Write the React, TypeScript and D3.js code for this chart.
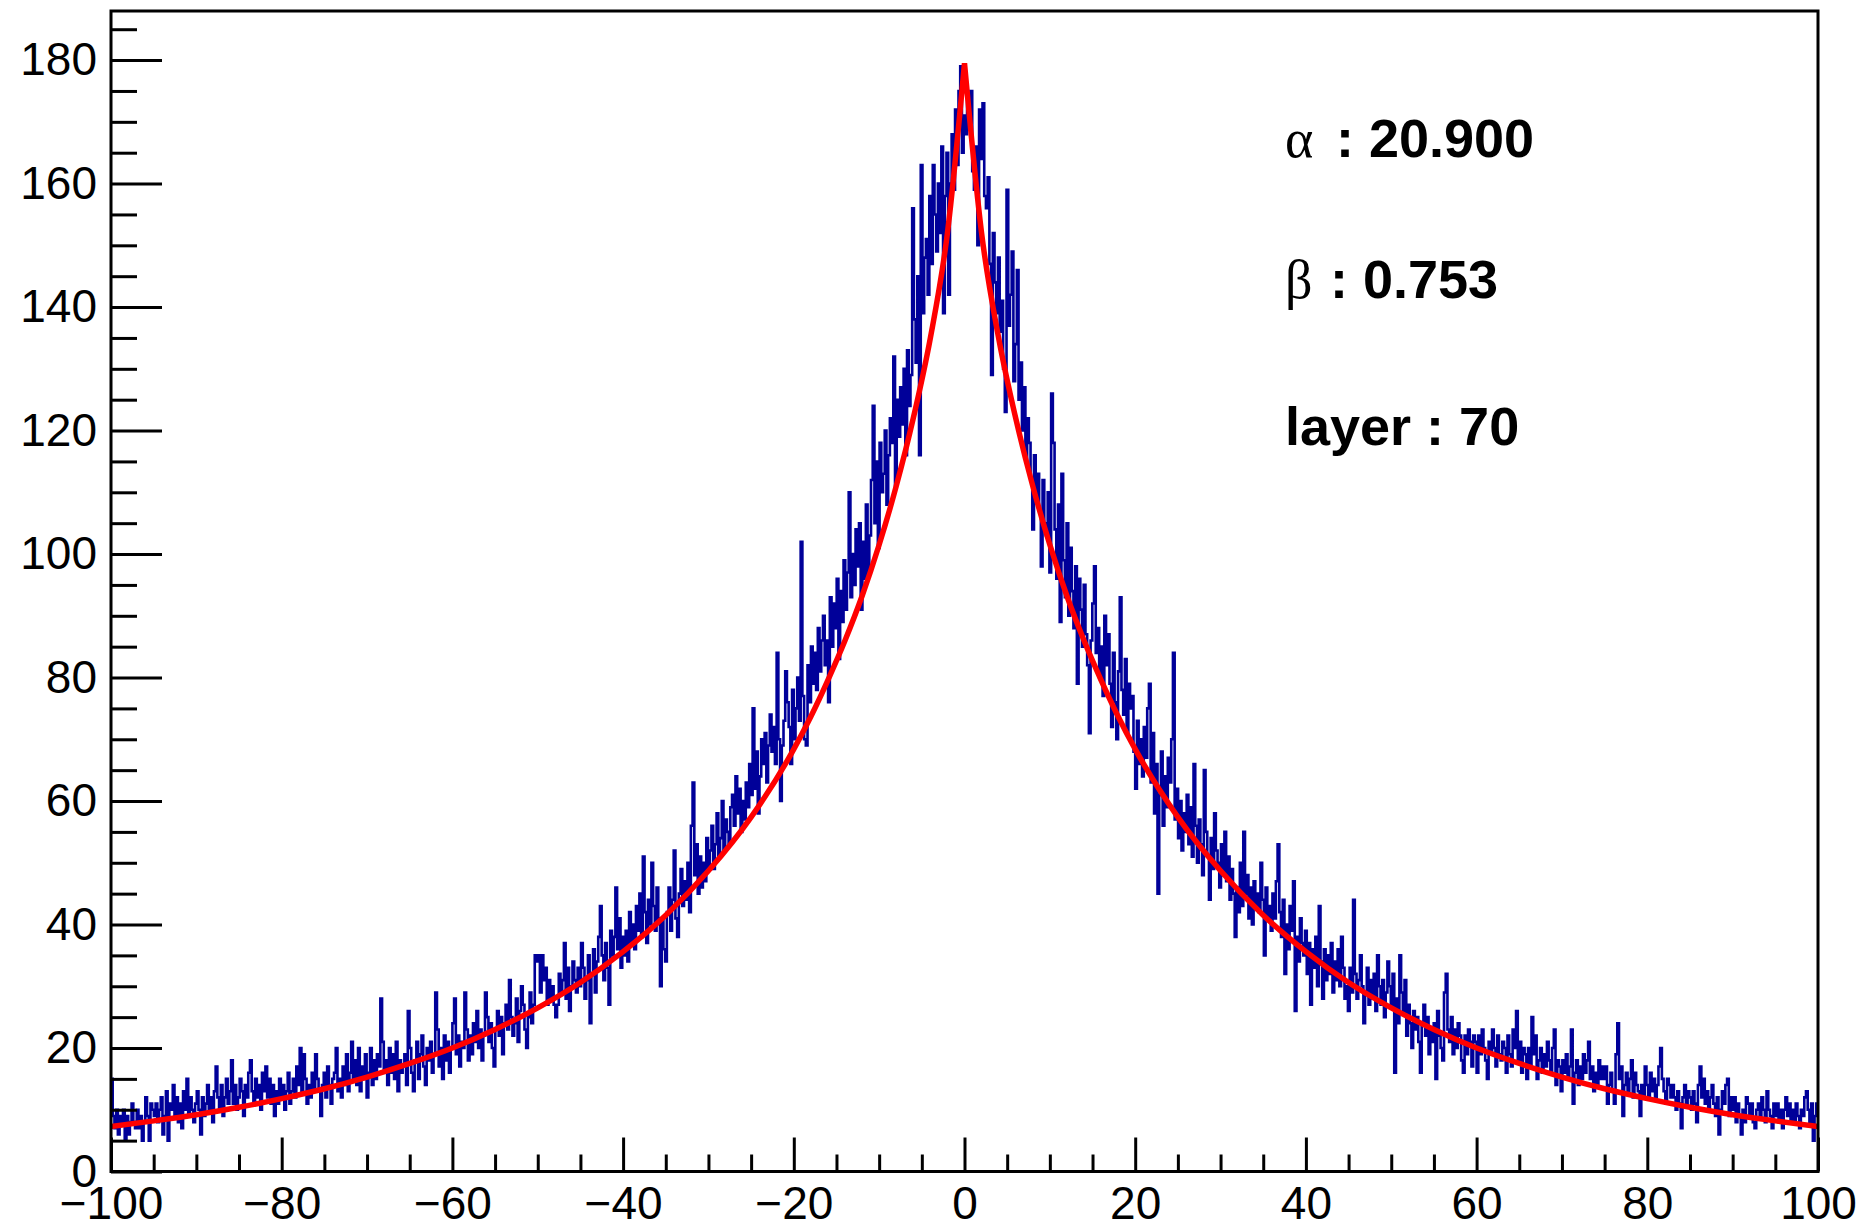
import React, { useEffect, useRef } from 'react';
import * as d3 from 'd3';

// bin contents, 1000 bins of 0.2 from -100 to 100, one array per 20 units of x
const countsNeg100 = [
    15, 9, 7, 10, 6, 9, 8, 10, 5, 9, 6, 8, 11, 8, 7, 10, 7, 9, 5, 8,
    12, 9, 5, 11, 10, 9, 11, 8, 10, 12, 6, 9, 13, 5, 11, 10, 14, 9, 12, 8,
    11, 7, 13, 10, 15, 9, 12, 10, 8, 11, 13, 10, 6, 12, 9, 11, 14, 10, 12, 8,
    13, 17, 12, 10, 14, 9, 12, 15, 11, 13, 18, 11, 14, 10, 12, 15, 13, 9, 14, 12,
    16, 18, 13, 11, 15, 12, 14, 10, 16, 13, 17, 12, 15, 11, 14
];
const countsNeg80 = [
    9, 13, 11, 15, 12, 14, 10, 13, 16, 11, 13, 15, 12, 17, 14, 20, 13, 19, 15, 11,
    14, 12, 16, 13, 19, 15, 13, 9, 14, 16, 12, 17, 14, 11, 15, 16, 20, 13, 15, 12,
    17, 14, 19, 13, 16, 21, 15, 18, 14, 20, 13, 17, 15, 19, 12, 16, 20, 14, 18, 15,
    19, 17, 28, 21, 16, 18, 14, 20, 16, 19, 15, 21, 13, 18, 16, 17, 19, 14, 26, 20,
    16, 13, 18, 21, 15, 19, 22, 17, 14, 20, 18, 21, 16, 19, 29, 23, 17, 20, 15, 22
];
const countsNeg60 = [
    18, 21, 16, 20, 24, 28, 19, 22, 17, 21, 20, 29, 23, 18, 22, 19, 24, 21, 26, 20,
    23, 18, 22, 29, 25, 21, 24, 20, 17, 23, 26, 22, 25, 19, 24, 27, 23, 31, 25, 22,
    24, 28, 21, 26, 30, 27, 23, 20, 25, 29, 24, 27, 35, 34, 35, 29, 35, 31, 33, 27,
    31, 28, 30, 27, 25, 27, 32, 29, 31, 37, 28, 33, 26, 30, 34, 31, 29, 33, 30, 37,
    33, 28, 31, 35, 24, 32, 36, 29, 34, 38, 43, 35, 31, 37, 33, 27, 39, 35, 38, 46
];
const countsNeg40 = [
    36, 41, 33, 38, 35, 39, 34, 42, 37, 40, 36, 43, 39, 45, 38, 51, 42, 37, 44, 40,
    50, 43, 39, 46, 41, 30, 41, 36, 34, 42, 46, 39, 44, 52, 41, 38, 45, 49, 43, 47,
    44, 50, 42, 56, 63, 48, 53, 45, 51, 46, 50, 47, 54, 49, 52, 56, 49, 53, 58, 51,
    54, 60, 52, 57, 55, 53, 59, 61, 56, 64, 58, 62, 55, 60, 57, 63, 59, 66, 61, 75,
    62, 68, 58, 64, 70, 66, 71, 63, 69, 74, 68, 72, 66, 84, 70, 60, 69, 73, 81, 76
];
const countsNeg20 = [
    72, 66, 78, 70, 75, 80, 73, 102, 77, 70, 69, 82, 76, 85, 79, 84, 78, 88, 81, 86,
    90, 82, 86, 76, 93, 85, 92, 88, 96, 83, 94, 89, 99, 91, 97, 110, 93, 100, 95, 104,
    98, 105, 91, 102, 96, 108, 97, 103, 112, 124, 105, 115, 101, 118, 110, 113, 120, 108, 116, 122,
    118, 132, 111, 125, 119, 127, 121, 130, 116, 133, 124, 129, 156, 138, 131, 145, 116, 163, 139, 148,
    151, 142, 158, 147, 163, 155, 149, 160, 152, 166, 139, 158, 165, 142, 160, 168, 159, 172, 163, 175
];
const countsPos0 = [
    179, 165, 171, 168, 174, 170, 175, 162, 159, 166, 150, 172, 164, 173, 158, 156, 161, 147, 129, 152,
    144, 139, 148, 136, 141, 130, 123, 159, 137, 142, 149, 128, 134, 146, 125, 131, 120, 127, 115, 122,
    118, 112, 104, 116, 109, 113, 107, 98, 112, 105, 103, 110, 97, 126, 118, 104, 96, 108, 89, 113,
    99, 93, 105, 90, 101, 94, 88, 98, 79, 96, 91, 85, 95, 87, 82, 71, 86, 92, 98, 84,
    88, 80, 85, 77, 90, 82, 87, 79, 72, 84, 76, 70, 81, 93, 78, 74, 83, 71, 79, 75
];
const countsPos20 = [
    77, 68, 62, 73, 66, 70, 64, 72, 67, 75, 79, 63, 71, 58, 66, 45, 61, 68, 56, 64,
    59, 67, 63, 70, 84, 57, 62, 54, 60, 52, 58, 55, 61, 53, 59, 51, 66, 56, 50, 57,
    53, 48, 65, 55, 51, 44, 54, 49, 58, 52, 50, 46, 53, 48, 55, 47, 51, 44, 49, 45,
    38, 46, 42, 50, 43, 55, 45, 48, 41, 46, 40, 47, 43, 45, 42, 50, 44, 35, 46, 41,
    43, 39, 45, 41, 47, 53, 42, 38, 44, 32, 40, 36, 43, 39, 47, 26, 38, 34, 41, 37
];
const countsPos40 = [
    35, 39, 32, 37, 27, 36, 33, 38, 30, 43, 34, 28, 36, 31, 35, 32, 37, 29, 34, 31,
    36, 30, 38, 33, 28, 30, 26, 33, 29, 44, 32, 28, 31, 35, 30, 24, 29, 33, 27, 31,
    28, 32, 26, 35, 30, 27, 31, 25, 29, 34, 30, 27, 32, 16, 28, 24, 35, 29, 26, 31,
    22, 27, 24, 20, 26, 23, 25, 21, 16, 24, 27, 22, 25, 19, 23, 21, 24, 15, 26, 22,
    20, 18, 29, 32, 23, 21, 25, 19, 23, 20, 24, 22, 18, 16, 22, 19, 23, 21, 17, 22
];
const countsPos60 = [
    21, 16, 22, 19, 23, 20, 18, 15, 21, 19, 23, 20, 17, 22, 19, 18, 21, 20, 16, 22,
    19, 17, 23, 20, 26, 18, 21, 16, 20, 19, 15, 20, 17, 25, 19, 22, 15, 18, 20, 16,
    19, 17, 21, 18, 16, 20, 23, 14, 18, 17, 13, 18, 16, 19, 15, 17, 23, 11, 16, 18,
    14, 17, 15, 19, 16, 18, 21, 15, 17, 13, 16, 14, 18, 15, 17, 15, 17, 11, 14, 16,
    13, 11, 19, 24, 15, 17, 9, 14, 16, 13, 15, 18, 12, 16, 14, 13, 9, 14, 12, 17
];
const countsPos80 = [
    14, 12, 16, 13, 15, 12, 14, 17, 20, 15, 13, 11, 15, 14, 12, 14, 12, 10, 13, 11,
    7, 12, 14, 11, 13, 12, 10, 13, 11, 8, 14, 17, 12, 15, 11, 13, 10, 12, 14, 11,
    9, 12, 6, 10, 13, 11, 14, 15, 9, 12, 10, 12, 8, 11, 9, 6, 10, 8, 12, 11,
    9, 11, 8, 7, 10, 11, 9, 12, 10, 8, 13, 10, 9, 7, 11, 9, 11, 8, 10, 7,
    10, 12, 9, 11, 8, 10, 8, 11, 9, 7, 10, 9, 12, 13, 10, 8, 11, 5, 9, 11
];

// fitted curve
const fitX = [
    -100, -95, -90, -85, -80, -75, -70, -65, -60, -55, -50, -45, -40, -35, -30, -25, -20,
    -18, -16, -14, -12, -10, -8, -6, -4, -2, 0,
    2, 4, 6, 8, 10, 12, 14, 16, 18,
    20, 25, 30, 35, 40, 45, 50, 55, 60, 65, 70, 75, 80, 85, 90, 95, 100
];
const fitY = [
    7.3, 8.2, 9.2, 10.4, 11.8, 13.4, 15.3, 17.5, 20.0, 23.0, 26.5, 30.6, 35.6, 41.5, 48.7, 57.4, 68.4,
    73.7, 79.6, 86.0, 93.2, 101.5, 111.0, 122.0, 135.0, 152.0, 179.5,
    152.0, 135.0, 122.0, 111.0, 101.5, 93.2, 86.0, 79.6, 73.7,
    68.4, 57.4, 48.7, 41.5, 35.6, 30.6, 26.5, 23.0, 20.0, 17.5, 15.3, 13.4, 11.8, 10.4, 9.2, 8.2, 7.3
];

const xTickValues = [-100, -80, -60, -40, -20, 0, 20, 40, 60, 80, 100];
const yTickValues = [0, 20, 40, 60, 80, 100, 120, 140, 160, 180];

const paramSymbols = ['α', 'β'];
const paramValues = ['20.900', '0.753'];
const layerText = 'layer : 70';

const W = 1867;
const H = 1228;
const frame = { left: 111, right: 1818, top: 11, bottom: 1171.5 };
const sansFont = '"Liberation Sans", Arial, Helvetica, sans-serif';
const serifFont = '"Liberation Serif", "Times New Roman", serif';

const App = () => {
    const svgRef = useRef<SVGSVGElement>(null);

    useEffect(() => {
        const svg = d3.select(svgRef.current);
        svg.selectAll('*').remove();

        const counts = [
            ...countsNeg100, ...countsNeg80, ...countsNeg60, ...countsNeg40, ...countsNeg20,
            ...countsPos0, ...countsPos20, ...countsPos40, ...countsPos60, ...countsPos80
        ];
        const binW = 200 / counts.length;
        const yMax = 1.05 * (d3.max(counts) as number);

        const x = d3.scaleLinear().domain([-100, 100]).range([frame.left, frame.right]);
        const y = d3.scaleLinear().domain([0, yMax]).range([frame.bottom, frame.top]);

        svg.append('rect').attr('width', W).attr('height', H).attr('fill', '#fff');

        svg.append('clipPath').attr('id', 'frame-clip')
            .append('rect')
            .attr('x', frame.left).attr('y', frame.top)
            .attr('width', frame.right - frame.left)
            .attr('height', frame.bottom - frame.top);

        //histogram as a step line
        const steps: [number, number][] = counts.map((c, i) => [-100 + i * binW, c]);
        steps.push([100, counts[counts.length - 1]]);
        const stepLine = d3.line<[number, number]>()
            .x(d => x(d[0]))
            .y(d => y(d[1]))
            .curve(d3.curveStepAfter);

        svg.append('path')
            .attr('d', stepLine(steps))
            .attr('fill', 'none')
            .attr('stroke', '#000099')
            .attr('stroke-width', 2.6)
            .attr('clip-path', 'url(#frame-clip)');

        //fit curve, two halves joined at the cusp
        const fitPts: [number, number][] = fitX.map((v, i) => [v, fitY[i]]);
        const smooth = d3.line<[number, number]>()
            .x(d => x(d[0]))
            .y(d => y(d[1]))
            .curve(d3.curveMonotoneX);
        const leftPath = smooth(fitPts.filter(d => d[0] <= 0)) || '';
        const rightPath = (smooth(fitPts.filter(d => d[0] >= 0)) || '').replace(/^M/, 'L');

        svg.append('path')
            .attr('d', leftPath + rightPath)
            .attr('fill', 'none')
            .attr('stroke', '#ff0000')
            .attr('stroke-width', 5.5)
            .attr('stroke-linejoin', 'bevel')
            .attr('clip-path', 'url(#frame-clip)');

        //minor ticks
        const xMinor = d3.range(-100, 100.001, 5).filter(v => !xTickValues.includes(v));
        const yMinor = d3.range(0, yMax, 5).filter(v => !yTickValues.includes(v));

        const xMinorAxis = svg.append('g')
            .attr('transform', `translate(0,${frame.bottom})`)
            .call(d3.axisBottom(x).tickValues(xMinor).tickSize(-17).tickFormat(() => ''));
        const yMinorAxis = svg.append('g')
            .attr('transform', `translate(${frame.left},0)`)
            .call(d3.axisLeft(y).tickValues(yMinor).tickSize(-26).tickFormat(() => ''));

        //major ticks with labels
        const xAxis = svg.append('g')
            .attr('transform', `translate(0,${frame.bottom})`)
            .call(d3.axisBottom(x).tickValues(xTickValues).tickSize(-34).tickPadding(15).tickFormat(d3.format('d')));
        const yAxis = svg.append('g')
            .attr('transform', `translate(${frame.left},0)`)
            .call(d3.axisLeft(y).tickValues(yTickValues).tickSize(-51).tickPadding(14).tickFormat(d3.format('d')));

        [xMinorAxis, yMinorAxis, xAxis, yAxis].forEach(g => {
            g.select('.domain').remove();
            g.selectAll('line').attr('stroke', '#000').attr('stroke-width', 3);
            g.selectAll('text')
                .attr('font-family', sansFont)
                .attr('font-size', 46)
                .attr('fill', '#000');
        });

        //frame
        svg.append('rect')
            .attr('x', frame.left).attr('y', frame.top)
            .attr('width', frame.right - frame.left)
            .attr('height', frame.bottom - frame.top)
            .attr('fill', 'none')
            .attr('stroke', '#000')
            .attr('stroke-width', 3);

        //fit parameters
        const baselines = [157, 298];
        const colonX = [1336, 1330];
        paramSymbols.forEach((sym, i) => {
            const t = svg.append('text').attr('y', baselines[i]).attr('font-size', 54).attr('fill', '#000');
            t.append('tspan').attr('x', 1285).attr('font-family', serifFont).text(sym);
            t.append('tspan').attr('x', colonX[i]).attr('font-family', sansFont).attr('font-weight', 'bold')
                .text(`: ${paramValues[i]}`);
        });

        svg.append('text')
            .attr('x', 1285)
            .attr('y', 445)
            .attr('font-family', sansFont)
            .attr('font-weight', 'bold')
            .attr('font-size', 54)
            .attr('fill', '#000')
            .text(layerText);
    }, []);

    return (
        <svg
            ref={svgRef}
            width={W}
            height={H}
            style={{ position: 'absolute', left: 0, top: 0, display: 'block' }}
        />
    );
};

export default App;
